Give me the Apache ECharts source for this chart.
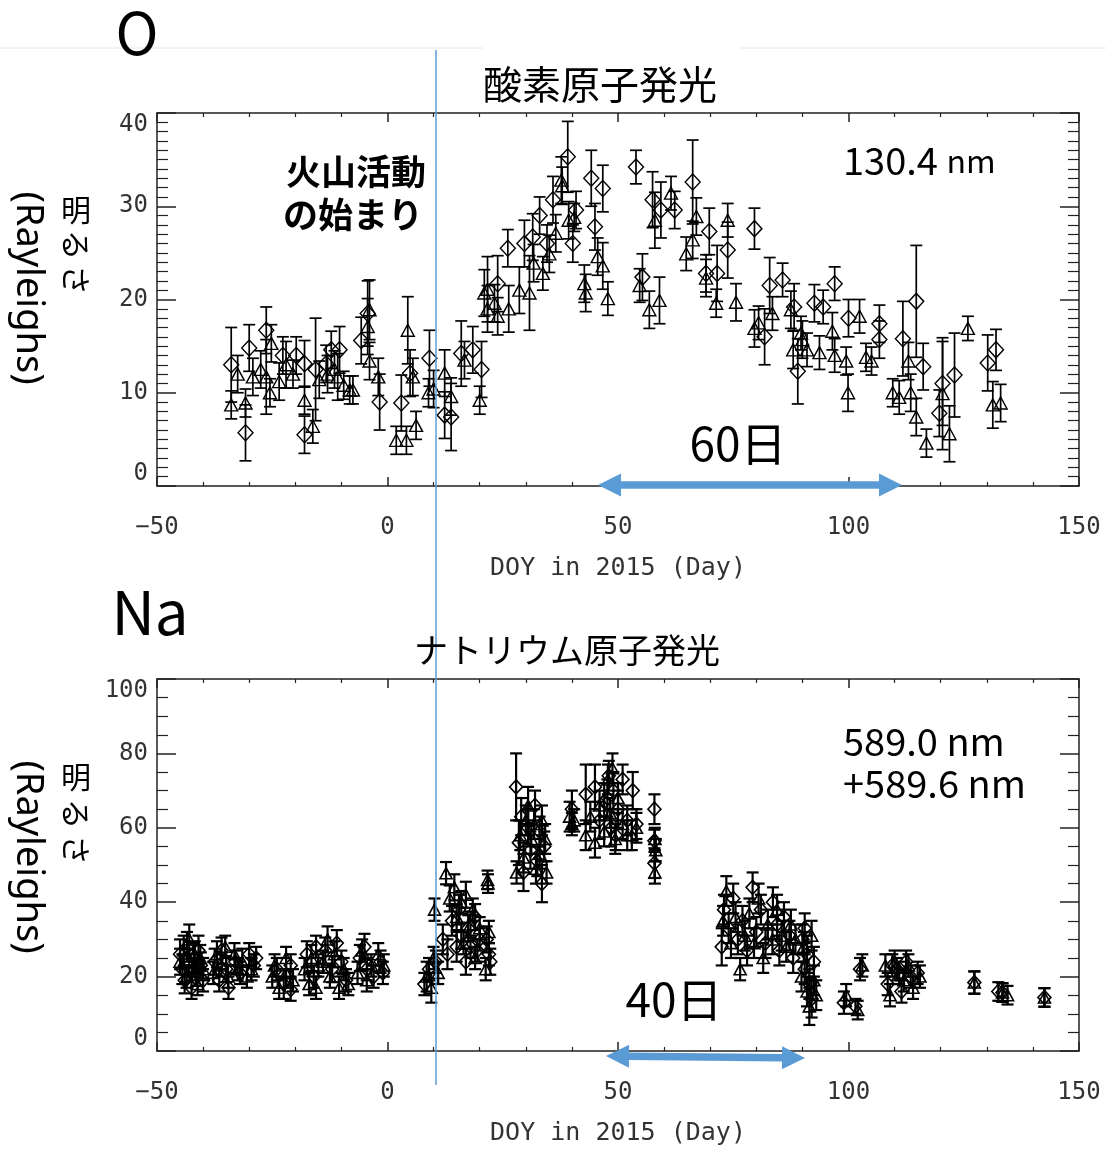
<!DOCTYPE html>
<html>
<head>
<meta charset="utf-8">
<script src="https://cdn.jsdelivr.net/npm/echarts@6/dist/echarts.min.js"></script>
<style>
html,body{margin:0;padding:0;background:#fff;}
#chart{width:1106px;height:1149px;}
</style>
</head>
<body>
<div id="chart"></div>
<script>
// ---------- DATA ----------
const xTickValues = [-50, 0, 50, 100, 150];
const xTickLabels = ['−50', '0', '50', '100', '150'];
const oYTicks = [0, 10, 20, 30, 40];
const naYTicks = [0, 20, 40, 60, 80, 100];

// Oxygen 130.4 nm : [DOY, brightness (R), error]
const oDiamonds = [
  [-33.9,13.0,4.0],[-30.8,5.7,3.0],[-30.0,14.8,2.5],[-26.3,16.7,2.5],[-22.7,14.0,2.0],
  [-19.8,14.0,2.0],[-18.0,5.5,2.0],[-18.0,13.1,2.5],[-15.6,12.5,5.5],[-13.3,13.1,2.0],
  [-12.2,14.6,2.0],[-10.4,14.6,2.5],[-5.7,15.6,2.5],[-4.3,18.5,3.5],[-1.7,9.0,3.0],
  [3.0,8.9,3.0],[4.9,12.1,2.5],[9.1,13.7,3.0],[12.4,7.6,2.5],[13.8,7.4,3.6],
  [16.0,14.2,3.5],[18.5,14.6,2.5],[20.4,12.5,3.0],[23.9,21.7,3.0],[26.1,25.5,2.0],
  [29.7,26.0,2.5],[31.5,26.7,2.5],[33.0,29.0,2.0],[34.6,26.0,2.0],[35.9,30.7,2.5],
  [39.1,35.3,3.8],[40.2,26.0,2.0],[40.9,29.6,2.0],[44.2,33.0,3.0],[45.0,27.8,2.5],
  [46.7,31.9,2.5],[53.9,34.2,1.8],[55.3,22.4,2.5],[57.5,30.7,3.0],[59.3,29.6,3.0],
  [62.3,29.6,2.0],[66.2,32.6,4.5],[69.8,27.3,2.5],[69.1,22.8,2.0],[71.5,22.8,3.0],
  [73.8,25.3,3.0],[79.6,27.6,2.2],[81.8,16.0,3.0],[82.9,21.5,3.0],[85.7,22.1,1.8],
  [88.2,19.2,2.5],[89.0,12.3,3.5],[92.6,19.6,2.0],[94.5,19.2,1.8],[97.0,21.7,1.8],
  [100.0,18.0,2.0],[106.7,17.4,2.0],[106.7,15.7,2.0],[111.8,15.8,4.0],[114.7,19.8,6.0],
  [116.2,12.8,2.5],[119.7,7.8,2.5],[120.4,11.0,4.5],[123.0,11.9,4.5],[130.2,13.2,3.0],
  [132.0,14.6,2.2]
];
const oTriangles = [
  [-33.9,8.7,1.5],[-32.5,12.0,2.0],[-30.8,8.9,1.5],[-29.2,11.7,2.0],[-27.5,12.5,2.0],
  [-26.3,11.7,4.0],[-25.5,10.0,1.5],[-25.2,15.3,2.0],[-23.5,11.2,2.0],[-22.0,13.0,2.5],
  [-20.5,12.0,1.5],[-18.0,9.2,1.5],[-16.2,6.4,1.8],[-14.8,11.4,2.0],[-13.0,12.0,2.0],
  [-11.5,12.5,2.0],[-10.8,11.7,2.5],[-9.5,10.8,1.5],[-8.2,10.3,1.5],[-7.5,10.3,1.5],
  [-4.3,17.1,3.0],[-3.9,18.9,3.2],[-3.9,13.4,2.0],[-2.0,11.7,2.0],[1.9,4.9,1.5],
  [4.1,4.9,1.5],[6.2,6.5,1.5],[4.4,16.7,3.6],[5.5,11.7,2.0],[8.9,10.0,1.5],
  [10.0,10.4,2.0],[12.4,12.1,2.5],[13.8,9.6,2.0],[16.7,13.5,2.0],[20.0,9.2,1.5],
  [21.0,20.7,2.5],[21.7,21.1,3.5],[21.7,19.0,2.5],[23.2,19.6,2.0],[23.9,18.2,2.0],
  [26.3,19.0,2.5],[28.6,21.0,2.5],[30.8,20.7,4.0],[31.7,23.9,2.0],[33.7,22.8,1.8],
  [35.1,24.9,2.0],[36.5,27.1,2.0],[37.7,32.8,2.5],[37.9,32.2,2.0],[39.3,28.5,2.0],
  [40.5,28.8,1.5],[42.7,21.7,2.0],[43.0,20.7,2.0],[45.6,24.6,2.0],[46.7,23.6,2.5],
  [47.8,20.1,1.8],[54.7,21.5,1.8],[56.8,18.9,2.0],[58.0,28.5,3.0],[59.0,19.9,2.5],
  [61.5,31.4,1.8],[64.8,24.9,1.8],[66.2,26.4,2.0],[67.0,28.9,2.0],[69.1,22.3,2.0],
  [71.3,19.6,1.5],[73.8,28.5,1.8],[75.6,19.7,2.0],[79.6,16.9,2.0],[80.5,17.5,1.8],
  [83.5,18.5,1.8],[87.5,18.9,2.0],[88.0,14.6,2.0],[89.7,16.4,1.8],[90.0,15.7,2.0],
  [91.0,14.6,1.8],[93.7,14.3,1.8],[96.5,16.6,2.0],[97.0,14.0,1.8],[99.5,13.4,1.5],
  [99.9,10.0,2.0],[102.4,18.2,1.8],[103.8,13.8,1.5],[105.0,13.4,1.5],[109.6,10.0,1.5],
  [111.0,9.5,1.8],[113.0,13.4,2.0],[113.5,10.0,2.0],[114.7,7.4,2.0],[116.9,4.6,1.5],
  [120.4,9.9,6.0],[121.9,5.6,3.0],[125.9,16.9,1.3],[131.3,8.7,2.5],[133.0,8.9,2.0]
];

// Sodium 589.0 + 589.6 nm : [DOY, brightness (R), error]
const naDiamonds = [
  [-45,26,4],[-44.5,22,4],[-44,19,3.5],[-43.5,28,4],[-43,24,3.5],[-42.5,17,3],[-42,25,4],
  [-41.5,21,3.5],[-41,27,4],[-40.5,23,3.5],[-40,19,3],
  [-37.5,24,3.5],[-36.5,19,3],[-36,27,3.5],[-35,22,3.5],[-34.5,17,3],
  [-33,24,3],[-32,21,3],[-30,26,3],[-29,23,3],[-28.5,25,3],
  [-24,22,3],[-22.5,18,4],[-21,23,3],[-21,16.5,3],
  [-17.5,26,3.5],[-16,20,3],[-15.5,28,3],
  [-13.5,27,3.5],[-12,22,3.5],[-11,29,3.5],[-10,24,3],[-9,19,3],
  [-6,25,3.5],[-5,28,3.5],[-4.5,22,3],[-3,20,3],[-1.5,24,3],[-1,21,3],
  [8,18,3],[9,22,3],[10.5,24,3],
  [12,30,4],[13,26,4],[14,35,4],[15,28,4],[15.5,38,4],[16,31,3.5],[17,24,3.5],
  [17.5,33,3.5],[18,28,3],[19,36,3.5],[19.5,27,3],[20,30,3],
  [21.5,30,3.5],[22,26,3],[22.3,24,3.5],
  [27.9,71,9],[28.5,56,6],[29,63,5],[29.5,48,5],[30.5,60,5],[31,54,5],[32,66,4],
  [32.5,51,4],[33,59,4],[33.5,45,5],[34,55,4],
  [40,65,5],
  [43,69,8],[45,71,6],[46,62,5],[47,67,5],[47.7,68,5],[48,74,4],[48.5,60,5],[49,70,5],
  [49.5,58,4],[50,65,5],[51,73,4],[52,62,4],[53.2,70,5],[54,61,4],
  [57.9,65,4],[57.9,56.5,3],[57.9,50.5,4],
  [72.5,28,5],[73,38,4],[74,33,4],[75,41,4],[76,30,4],[77,35,4],[78,27,4],[79.2,44,4],
  [80,32,4],[81,38,4],[82,29,4],[83.6,40,4],[84.5,34,4],[85,27,4],[86,36,4],[87.2,31,4],[88,25,4],
  [90,30,4],[90.5,22,4],[91,26,5],[91.5,18,4],[92,14,5],[92.5,24,4],[90.5,33,4],
  [99,13,3],[102.5,22,3],[101.5,12,2],
  [108.5,18,3],[109.5,23,3],[110.5,22,3],[111.5,16,3],[112.5,24,3],[113.5,20,3],[115,21,3],
  [127.3,18.4,3],[133.4,15.7,2.5],[132.5,16,2.5],[142.5,14.4,2.5]
];
const naTriangles = [
  [-45,24,3.5],[-44.2,27,4],[-43.6,20,3],[-43,30,4],[-42.4,22,3],[-41.8,26,3.5],[-41.2,18,3],
  [-40.6,25,3.5],[-40,22,3],
  [-37.8,21,3],[-37,26,3.5],[-36,23,3],[-35.2,28,3],[-34.6,20,3],
  [-33.2,26,3],[-32.5,22,3],[-31.5,24,3.5],[-30.5,20,3],[-29.5,22,3],
  [-25,20,3],[-24.5,23,3],[-23.5,17,3],[-22,21,4],[-22,25,3],[-20.5,19,3],
  [-18,22,3],[-17,18,3],[-16.5,25,3.5],[-15,23,3],[-15.5,17,3],
  [-14,24,3],[-13,30,3.5],[-12.5,20,3],[-11.5,26,3.5],[-10.5,17,3],[-9.5,22,3],[-8.5,18,3],
  [-6.5,21,3],[-5.5,27,3],[-4.5,19,3],[-3.5,23,3],[-2,26,3],[-0.8,23,3],
  [8.5,20,4],[9.5,17,4],[10,25,3],[10.2,38,3],[11,21,3],
  [12.7,47.8,3],[13.5,41,3.5],[14.5,44,3.5],[15,36,3.5],[16,40,3],[16.5,29,3],[17,42,3.5],
  [18,34,3.5],[18.5,38,3],[19,25,3],[20,33,3],
  [21.7,46,2.5],[21.8,45,2.5],[22,32,3],[21.3,22,3],
  [28,48,3],[28.8,58,4],[29.5,52,4],[30,62,4],[30.5,66,5],[31.2,57,4],[31.8,61,4],[32.2,49,4],
  [33,53,4],[33.5,62,4],[34.2,57,4],[34.5,48,3],
  [40,61,3],[40.5,62,3],[39.5,63,4],
  [43,58,4],[44,63,4],[45,56,4],[46,66,4],[47,59,4],[47.8,73,4],[48.3,64,4],[48.8,76,4],
  [49.4,57,4],[50,68,4],[51,61,4],[52,58,4],[53,58,4],[54,60,4],
  [58,57,3],[58,48,3],[58.2,54,3],
  [72.8,35,4],[73.5,43,4],[74.5,29,4],[75.5,36,4],[76.5,22,3],[77.5,31,4],[78.5,37,4],[79.5,29,4],
  [80.5,41,4],[81.5,25,4],[82.5,34,4],[83.5,30,4],[84.5,38,4],[85.5,31,4],[86.5,28,4],[87.5,34,4],[88.5,30,4],
  [89.8,20,4],[90.3,28,4],[91,16,4],[91.5,12,5],[92,31,4],[92.5,19,4],[93,15,4],
  [99.5,15,3],[102,11,2.5],[103,23,3],
  [108,23,3],[109,15,3],[110,24,3],[111,21,3],[112,19,3],[113,23,3],[114,17,3],[115.5,20,3],
  [127.3,18.4,3],[133.4,15.7,2.5],[134.5,15,2.5],[142.5,14.4,2.5]
];

// ---------- CHART ----------
const chart = echarts.init(document.getElementById('chart'), null, {renderer: 'canvas'});
const AX = '#222';
const labelFont = 'DejaVu Sans Mono';

function xAxisDef(grid, pos) {
  const bottom = pos === 'bottom';
  return {
    type: 'value', gridIndex: grid, position: pos, min: -50, max: 150, interval: 50,
    axisLine: {show: true, onZero: false, lineStyle: {color: AX, width: 1.5}},
    axisTick: {show: true, inside: true, length: 9, lineStyle: {color: AX, width: 1.5}},
    minorTick: {show: true, splitNumber: 5, length: 4, lineStyle: {color: AX, width: 1.2}},
    splitLine: {show: false},
    axisLabel: {
      show: bottom, margin: 30, fontFamily: labelFont, fontSize: 24, color: '#333',
      formatter: v => xTickLabels[xTickValues.indexOf(v)]
    },
    name: bottom ? 'DOY in 2015 (Day)' : '',
    nameLocation: 'middle', nameGap: 70,
    nameTextStyle: {fontFamily: labelFont, fontSize: 25, color: '#333'}
  };
}
function yAxisDef(grid, pos, max, interval, minorSplit, ticks) {
  const left = pos === 'left';
  return {
    type: 'value', gridIndex: grid, position: pos, min: 0, max: max, interval: interval,
    axisLine: {show: true, onZero: false, lineStyle: {color: AX, width: 1.5}},
    axisTick: {show: true, inside: true, length: 19, lineStyle: {color: AX, width: 1.5}},
    minorTick: {show: true, splitNumber: minorSplit, length: 11, lineStyle: {color: AX, width: 1.2}},
    splitLine: {show: false},
    axisLabel: {
      show: left, margin: 9, fontFamily: labelFont, fontSize: 24, color: '#333',
      verticalAlignMinLabel: 'bottom', verticalAlignMaxLabel: 'top',
      formatter: v => String(ticks[ticks.indexOf(v)])
    }
  };
}

function makeErrRender(lw, cw) {
  return function (params, api) {
    const x = api.value(0), y = api.value(1), e = api.value(2);
    const t = api.coord([x, y + e]), b = api.coord([x, y - e]);
    const st = {stroke: '#000', lineWidth: lw};
    return {
      type: 'group',
      children: [
        {type: 'line', shape: {x1: t[0], y1: t[1], x2: b[0], y2: b[1]}, style: st},
        {type: 'line', shape: {x1: t[0] - cw, y1: t[1], x2: t[0] + cw, y2: t[1]}, style: st},
        {type: 'line', shape: {x1: b[0] - cw, y1: b[1], x2: b[0] + cw, y2: b[1]}, style: st}
      ]
    };
  };
}
function errSeries(data, xi, yi, lw, cw) {
  return {type: 'custom', xAxisIndex: xi, yAxisIndex: yi, data: data,
    encode: {x: 0, y: 1}, renderItem: makeErrRender(lw, cw), clip: true, silent: true, z: 2};
}
function symSeries(data, xi, yi, symbol, size, bw) {
  return {type: 'scatter', xAxisIndex: xi, yAxisIndex: yi, data: data, encode: {x: 0, y: 1},
    symbol: symbol, symbolSize: size, silent: true, z: 3,
    itemStyle: {color: 'rgba(255,255,255,0)', borderColor: '#000', borderWidth: bw, opacity: 1}};
}

const BLUE = '#5b9bd5';
function arrow(x1, y1, x2, y2) {
  const hl = 23, hw = 11.5, sw = 3.8;
  const dx = x2 - x1, dy = y2 - y1, L = Math.hypot(dx, dy);
  const ux = dx / L, uy = dy / L, nx = -uy, ny = ux;
  const P = (a, n) => [x1 + ux * a + nx * n, y1 + uy * a + ny * n];
  const pts = [P(0, 0), P(hl, hw), P(hl, sw), P(L - hl, sw), P(L - hl, hw), P(L, 0),
               P(L - hl, -hw), P(L - hl, -sw), P(hl, -sw), P(hl, -hw)];
  return {type: 'polygon', shape: {points: pts}, style: {fill: BLUE}, z: 100};
}
function txt(x, y, text, size, opts) {
  return Object.assign({type: 'text', x: x, y: y, z: 100,
    style: Object.assign({text: text, fontSize: size, fontFamily: 'Noto Sans CJK JP', fill: '#000',
      align: 'center', verticalAlign: 'middle'}, (opts && opts.style) || {})},
    (opts && opts.el) || {});
}
const ROT = -Math.PI / 2;

const option = {
  animation: false,
  backgroundColor: '#fff',
  grid: [
    {left: 157, top: 113, width: 922, height: 373, outerBoundsMode: 'none', containLabel: false},
    {left: 157, top: 679, width: 922, height: 372, outerBoundsMode: 'none', containLabel: false}
  ],
  xAxis: [xAxisDef(0, 'bottom'), xAxisDef(0, 'top'), xAxisDef(1, 'bottom'), xAxisDef(1, 'top')],
  yAxis: [
    yAxisDef(0, 'left', 40, 10, 10, oYTicks), yAxisDef(0, 'right', 40, 10, 10, oYTicks),
    yAxisDef(1, 'left', 100, 20, 4, naYTicks), yAxisDef(1, 'right', 100, 20, 4, naYTicks)
  ],
  series: [
    errSeries(oDiamonds, 0, 0, 1.7, 6), errSeries(oTriangles, 0, 0, 1.7, 6),
    symSeries(oDiamonds, 0, 0, 'diamond', [15, 16], 1.4),
    symSeries(oTriangles, 0, 0, 'triangle', [13, 12], 1.4),
    errSeries(naDiamonds, 2, 2, 2.2, 6), errSeries(naTriangles, 2, 2, 2.2, 6),
    symSeries(naDiamonds, 2, 2, 'diamond', [13, 14], 1.6),
    symSeries(naTriangles, 2, 2, 'triangle', [12, 11], 1.6)
  ],
  graphic: [
    {type: 'line', shape: {x1: 0, y1: 48, x2: 483, y2: 48}, style: {stroke: '#e6e6e6', lineWidth: 1}, z: 1},
    {type: 'line', shape: {x1: 740, y1: 48, x2: 1106, y2: 48}, style: {stroke: '#e6e6e6', lineWidth: 1}, z: 1},
    {type: 'line', shape: {x1: 436, y1: 50, x2: 436, y2: 1085}, style: {stroke: BLUE, lineWidth: 1.5}, z: 90},
    txt(137, 33, 'O', 58),
    txt(150, 612, 'Na', 60),
    txt(600, 84, '酸素原子発光', 39),
    txt(567, 650, 'ナトリウム原子発光', 34),
    {type: 'text', x: 843, y: 161, z: 100, style: {
      text: '{a|130.4}{s| }{b|nm}', fontFamily: 'Noto Sans CJK JP', fill: '#000',
      align: 'left', verticalAlign: 'middle',
      rich: {a: {fontSize: 38, fontFamily: 'Noto Sans CJK JP'},
             s: {fontSize: 38, fontFamily: 'Noto Sans CJK JP'},
             b: {fontSize: 32, fontFamily: 'Noto Sans CJK JP'}}}},
    txt(843, 742, '589.0 nm', 38, {style: {align: 'left'}}),
    txt(843, 784, '+589.6 nm', 38, {style: {align: 'left'}}),
    txt(356, 172, '火山活動', 35, {style: {fontWeight: 'bold'}}),
    txt(353, 215, 'の始まり', 35, {style: {fontWeight: 'bold'}}),
    txt(738, 444, '60日', 46),
    txt(674, 1000, '40日', 46),
    arrow(598, 485, 902, 485),
    arrow(606, 1056, 805, 1058),
    // y-axis titles
    txt(28, 288, '(Rayleighs)', 38, {style: {fontFamily: 'Noto Sans'}, el: {rotation: ROT}}),
    txt(76, 210, '明', 30),
    txt(76, 245, 'る', 30, {el: {rotation: ROT}}),
    txt(76, 280, 'さ', 30, {el: {rotation: ROT}}),
    txt(28, 857, '(Rayleighs)', 38, {style: {fontFamily: 'Noto Sans'}, el: {rotation: ROT}}),
    txt(76, 777, '明', 30),
    txt(76, 814, 'る', 30, {el: {rotation: ROT}}),
    txt(76, 850, 'さ', 30, {el: {rotation: ROT}})
  ]
};
chart.setOption(option);
</script>
</body>
</html>
